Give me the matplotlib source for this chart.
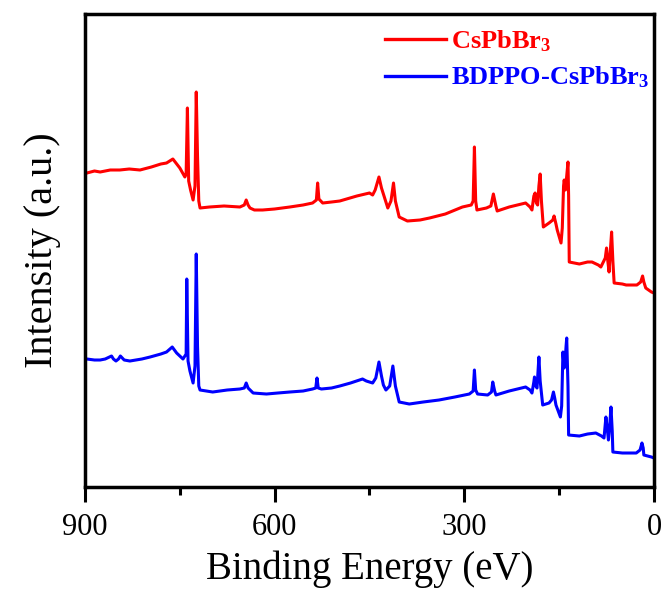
import matplotlib
matplotlib.use('Agg')
import matplotlib.pyplot as plt
from matplotlib.ticker import MultipleLocator

# XPS survey, values (binding energy in eV, intensity in a.u.)
red_be = [900, 897, 885, 876, 860, 845, 830, 813, 795, 780, 771, 761, 750, 742, 740,
          738, 736, 733, 729, 726, 724, 722, 720, 718, 703, 680, 655, 648, 645, 642,
          639, 632, 619, 600, 576, 555, 540, 534, 532, 530, 524, 510, 497, 470, 450,
          445, 441, 435, 431, 428, 421, 416, 412, 409, 403, 390, 370, 355, 330, 303,
          289, 286, 284, 282, 280, 265, 258, 254, 250, 248, 229, 203, 196, 193, 190,
          188, 186, 184, 182, 180, 178, 175, 166, 160, 158, 155, 153, 147, 145, 143,
          142, 140, 138, 136, 135, 134, 118, 105, 98, 88, 84, 77, 75, 73, 71,
          69, 67, 65, 63, 50, 44, 27, 21, 18, 16, 13, 4, 0]
red_int = [312, 313, 315, 314, 316, 316, 317, 316, 319, 322, 323, 327, 318, 309, 312,
           378, 305, 296, 286, 300, 394, 330, 285, 278, 279, 280, 279, 281, 286, 281,
           278, 276, 276, 277, 279, 281, 283, 286, 303, 287, 283, 284, 285, 290, 293,
           291, 296, 309, 298, 292, 278, 285, 303, 285, 269, 265, 266, 268, 272, 279,
           281, 285, 339, 285, 276, 278, 280, 292, 280, 275, 279, 283, 279, 276, 290,
           293, 283, 281, 300, 312, 285, 259, 263, 266, 270, 262, 256, 243, 258, 300,
           306, 296, 310, 324, 290, 224, 222, 224, 224, 221, 219, 228, 238, 225, 214,
           235, 254, 225, 203, 202, 201, 201, 204, 210, 204, 198, 194, 193]

blue_be = [900, 897, 885, 876, 868, 858, 855, 851, 847, 844, 838, 829, 810, 797, 780,
           771, 762, 755, 745, 740, 739, 737, 734, 729, 726, 724, 722, 720, 718, 698,
           675, 655, 648, 645, 642, 634, 613, 595, 576, 555, 540, 535, 533, 531, 526,
           510, 497, 480, 461, 455, 445, 440, 435, 431, 428, 424, 418, 413, 409, 403,
           387, 365, 340, 315, 292, 286, 284, 282, 279, 263, 257, 255, 252, 250, 229,
           203, 196, 193, 190, 189, 187, 185, 182, 180, 176, 166, 162, 159, 157, 155,
           148, 146, 144, 142, 141, 139, 138, 136, 135, 118, 105, 92, 83, 79, 76,
           74, 72, 70, 68, 66, 65, 50, 44, 28, 22, 19, 17, 16, 4, 0]
blue_int = [127, 127, 126, 126, 127, 130, 127, 125, 127, 130, 126, 125, 127, 129, 132,
            134, 139, 133, 127, 132, 207, 125, 115, 103, 120, 232, 140, 100, 96, 94,
            96, 97, 98, 103, 98, 93, 92, 93, 94, 95, 97, 98, 108, 98, 97,
            98, 100, 103, 107, 105, 103, 108, 124, 110, 101, 96, 100, 120, 100, 84,
            82, 84, 86, 89, 92, 95, 116, 96, 92, 91, 94, 104, 95, 91, 95,
            99, 96, 93, 104, 109, 100, 98, 129, 105, 81, 83, 86, 94, 88, 81,
            69, 80, 134, 118, 121, 140, 148, 100, 51, 50, 52, 53, 50, 48, 69,
            58, 46, 60, 79, 55, 34, 33, 33, 33, 36, 43, 38, 31, 29, 28]

labels = ['CsPbBr$_3$', 'BDPPO-CsPbBr$_3$']
colors = ['#ff0000', '#0000ff']

plt.rcParams['font.family'] = 'Liberation Serif'
plt.rcParams['mathtext.default'] = 'regular'   # subscripts follow the text font/weight

fig = plt.figure(figsize=(6.65, 5.98), dpi=100)
ax = fig.add_axes([0.1278, 0.1856, 0.8556, 0.791])   # [left, bottom, width, height]

ax.plot(red_be, red_int, color=colors[0], lw=2.2, label=labels[0])
ax.plot(blue_be, blue_int, color=colors[1], lw=2.2, label=labels[1])

ax.set_xlim(900, 0)
ax.set_ylim(-1, 472)
ax.xaxis.set_major_locator(MultipleLocator(300))
ax.xaxis.set_minor_locator(MultipleLocator(150))
ax.tick_params(axis='x', which='major', direction='out', length=11, width=2.2,
               labelsize=22, pad=8)
ax.tick_params(axis='x', which='minor', direction='out', length=6, width=2.2)
ax.set_yticks([])
for sp in ax.spines.values():
    sp.set_linewidth(2.5)

ax.set_xlabel('Binding Energy (eV)', fontsize=28, labelpad=6)
ax.set_ylabel('Intensity (a.u.)', fontsize=29, labelpad=17)

leg = ax.legend(loc='upper left', bbox_to_anchor=(0.527, 0.969), frameon=False,
                borderpad=0, borderaxespad=0, handlelength=2.3, handletextpad=0.2,
                labelspacing=0.4, labelcolor='linecolor',
                prop={'family': 'Liberation Serif', 'weight': 'bold', 'size': 19})
for h in leg.get_lines():
    h.set_linewidth(2.4)

fig.savefig('out.png', dpi=100)
